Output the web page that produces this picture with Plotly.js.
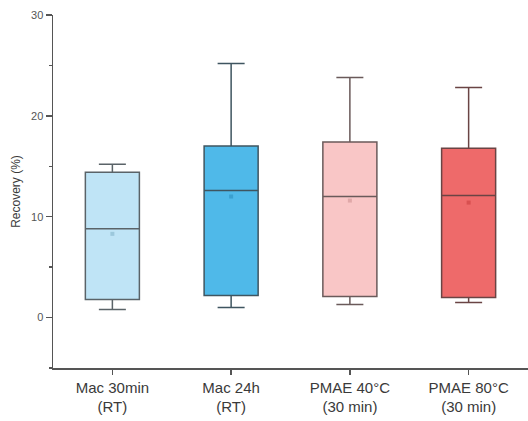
<!DOCTYPE html>
<html><head><meta charset="utf-8">
<script src="https://cdn.plot.ly/plotly-3.0.1.min.js"></script>
<style>html,body{margin:0;padding:0;background:#fff}#c{width:528px;height:421px}</style>
</head><body><div id="c"></div>
<script>
const categories = ["Mac 30min<br>(RT)", "Mac 24h<br>(RT)", "PMAE 40°C<br>(30 min)", "PMAE 80°C<br>(30 min)"];
const lowerWhisker = [0.8, 1.0, 1.3, 1.5];
const q1Values = [1.8, 2.2, 2.1, 2.0];
const medianValues = [8.8, 12.6, 12.0, 12.1];
const q3Values = [14.4, 17.0, 17.4, 16.8];
const upperWhisker = [15.2, 25.2, 23.8, 22.8];
const meanValues = [8.3, 12.0, 11.6, 11.4];
const fillColors = ["#bfe4f6", "#4fb9e9", "#f9c6c6", "#ee6a6a"];
const lineColors = ["#5a6368", "#3f5560", "#6a5a5a", "#6a4444"];
const meanColors = ["#9cc8dc", "#3aa0d0", "#e0a8a8", "#d85050"];

const traces = categories.map((c, i) => ({
  type: 'box',
  x: [c],
  q1: [q1Values[i]], median: [medianValues[i]], q3: [q3Values[i]],
  lowerfence: [lowerWhisker[i]], upperfence: [upperWhisker[i]],
  fillcolor: fillColors[i],
  line: {color: lineColors[i], width: 1.5},
  whiskerwidth: 0.5,
  boxpoints: false,
  hoverinfo: 'skip',
  showlegend: false
}));
traces.push({
  type: 'scatter', mode: 'markers',
  x: categories, y: meanValues,
  marker: {symbol: 'square', size: 4, color: meanColors},
  showlegend: false, hoverinfo: 'skip'
});

const layout = {
  width: 528, height: 421,
  margin: {l: 53, r: 0, t: 15, b: 53},
  paper_bgcolor: '#fff', plot_bgcolor: '#fff',
  boxgap: 0.35,
  font: {family: 'Liberation Sans, Arial, sans-serif', color: '#333'},
  xaxis: {
    type: 'category', range: [-0.5, 3.5],
    showline: true, linecolor: '#555', linewidth: 1.5,
    ticks: 'outside', ticklen: 5, tickcolor: '#555', tickwidth: 1.5,
    tickfont: {size: 15, color: '#3a3a3a'},
    showgrid: false, zeroline: false
  },
  yaxis: {
    range: [-5, 30], tickvals: [0, 10, 20, 30],
    showline: true, linecolor: '#555', linewidth: 1.5,
    ticks: 'outside', ticklen: 6, tickcolor: '#555', tickwidth: 1.5,
    tickfont: {size: 11, color: '#555'},
    minor: {dtick: 5, tick0: 0, ticks: 'outside', ticklen: 3, tickcolor: '#555', showgrid: false},
    showgrid: false, zeroline: false,
    title: {text: 'Recovery (%)', font: {size: 12, color: '#3a3a3a'}, standoff: 8}
  }
};
Plotly.newPlot('c', traces, layout, {displayModeBar: false, staticPlot: true});
</script></body></html>
